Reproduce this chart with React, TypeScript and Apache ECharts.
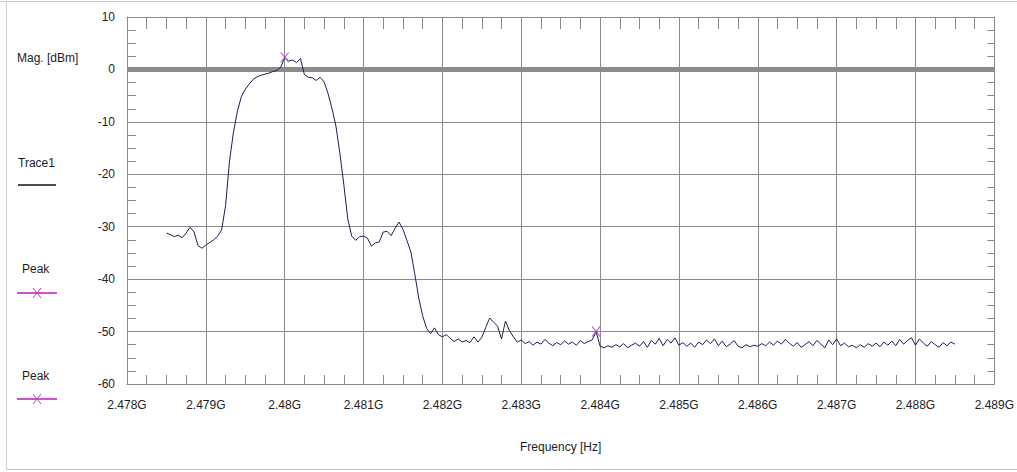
import React, { useEffect, useRef } from "react";
import * as echarts from "echarts";

// Sweep definition (Hz)
const sweepStartHz = 2478.5e6;
const sweepStepHz = 0.05e6;

// Trace1 magnitudes (dBm), one per sweep point, 2.4785 GHz .. 2.4885 GHz
const trace1Mag: number[] = [
  -31.2, -31.5, -31.9, -31.6, -32.1, -31.2, -30.1, -31.0, -33.6, -34.1,
  -33.5, -33.0, -32.5, -31.8, -30.6, -26.0, -17.5, -12.0, -8.0, -5.2,
  -3.8, -2.8, -1.9, -1.4, -1.1, -0.9, -0.7, -0.4, -0.2, 0.4,
  2.3, 1.6, 1.8, 1.3, 2.1, -1.0, -1.5, -1.6, -2.1, -1.5,
  -2.4, -4.6, -7.5, -10.8, -16.0, -22.0, -28.5, -31.8, -32.6, -31.9,
  -31.8, -32.2, -33.7, -33.1, -32.9, -31.0, -30.9, -31.7, -30.3, -29.1,
  -30.5, -32.6, -34.8, -39.0, -43.6, -47.0, -49.4, -50.4, -49.3, -50.6,
  -51.0, -50.6, -51.3, -51.9, -51.4, -52.0, -51.7, -52.1, -51.0, -52.0,
  -51.1, -49.2, -47.4, -48.2, -49.0, -51.4, -48.0, -49.8, -51.0, -52.0,
  -51.6, -52.3, -51.9, -52.6, -52.0, -52.4, -51.5, -52.2, -52.7, -52.1,
  -52.5, -51.8, -52.4, -52.0, -52.6, -51.7, -52.3, -51.9, -51.6, -50.0,
  -52.8, -53.1, -52.7, -53.0, -52.5, -52.9, -52.3, -53.1, -52.6, -52.2,
  -52.8, -51.9, -53.0, -51.7, -52.4, -51.3, -52.7, -51.5, -52.2, -51.2,
  -52.6, -52.1, -52.8, -52.2, -53.0, -52.0, -52.5, -51.6, -52.3, -51.4,
  -52.7, -51.8, -52.9, -52.4, -51.7, -52.8, -53.1, -52.5, -52.9, -52.6,
  -52.8, -52.3, -52.7, -52.0, -52.6, -51.8, -52.4, -51.5, -52.2, -52.8,
  -52.1, -53.0, -52.5, -51.9, -52.7, -51.7, -52.4, -53.1, -51.6, -52.5,
  -51.4, -52.7, -52.2, -52.9, -52.6, -53.1, -52.5, -53.0, -52.3, -52.8,
  -52.2, -52.9, -52.0, -52.6, -51.8, -52.7, -51.5, -52.4, -51.7, -51.2,
  -52.6, -51.4, -52.2, -52.8, -51.9, -52.5, -53.0, -52.1, -52.7, -52.0,
  -52.4,
];

// Peak markers
const peakFreqHz: number[] = [2480.0e6, 2483.95e6];
const peakMag: number[] = [2.3, -50.0];

// Axes
const freqMinHz = 2478e6;
const freqMaxHz = 2489e6;
const freqIntervalHz = 1e6;
const magMin = -60;
const magMax = 10;
const magInterval = 10;
const referenceLevel = 0;

const FONT = "'Liberation Sans', Arial, sans-serif";
const GRID_COLOR = "#8a8a8a";
const TEXT_COLOR = "#1e1e1e";
const TRACE_COLOR = "#1e1e56";
const PEAK_COLOR = "#b040c8";
const PEAK_LEGEND_COLOR = "#d050d0";

export default function App() {
  const ref = useRef<HTMLDivElement>(null);

  useEffect(() => {
    document.body.style.margin = "0";
    if (!ref.current) return;
    const chart = echarts.init(ref.current, null, { renderer: "svg" });

    const traceData = trace1Mag.map((v, i) => [sweepStartHz + i * sweepStepHz, v]);
    const peakData = peakFreqHz.map((f, i) => [f, peakMag[i]]);
    const refLineData = [
      [freqMinHz, referenceLevel],
      [freqMaxHz, referenceLevel],
    ];

    const baseX = {
      type: "value" as const,
      min: freqMinHz,
      max: freqMaxHz,
      interval: freqIntervalHz,
    };
    const baseY = {
      type: "value" as const,
      min: magMin,
      max: magMax,
      interval: magInterval,
    };

    const option: any = {
      animation: false,
      backgroundColor: "#ffffff",
      textStyle: { fontFamily: FONT },
      grid: { left: 127, right: 18, top: 17, bottom: 88, containLabel: false },
      xAxis: [
        {
          ...baseX,
          position: "bottom",
          name: "Frequency [Hz]",
          nameLocation: "middle",
          nameGap: 57,
          nameTextStyle: { color: TEXT_COLOR, fontSize: 12, fontFamily: FONT },
          axisLine: { show: true, onZero: false, lineStyle: { color: GRID_COLOR, width: 1 } },
          axisTick: { show: true, inside: true, length: 9, lineStyle: { color: GRID_COLOR } },
          minorTick: { show: true, splitNumber: 4, length: 9, lineStyle: { color: GRID_COLOR } },
          splitLine: { show: true, lineStyle: { color: GRID_COLOR, width: 1 } },
          axisLabel: {
            color: TEXT_COLOR,
            fontSize: 12,
            fontFamily: FONT,
            margin: 15,
            formatter: (v: number) => `${v / 1e9}G`,
          },
        },
        {
          ...baseX,
          position: "top",
          axisLine: { show: true, onZero: false, lineStyle: { color: GRID_COLOR, width: 1 } },
          axisTick: { show: true, inside: true, length: 12, lineStyle: { color: GRID_COLOR } },
          minorTick: { show: true, splitNumber: 4, length: 12, lineStyle: { color: GRID_COLOR } },
          splitLine: { show: false },
          axisLabel: { show: false },
        },
      ],
      yAxis: [
        {
          ...baseY,
          position: "left",
          axisLine: { show: true, onZero: false, lineStyle: { color: GRID_COLOR, width: 1 } },
          axisTick: { show: true, inside: true, length: 9, lineStyle: { color: GRID_COLOR } },
          minorTick: { show: true, splitNumber: 4, length: 9, lineStyle: { color: GRID_COLOR } },
          splitLine: { show: true, lineStyle: { color: GRID_COLOR, width: 1 } },
          axisLabel: { color: TEXT_COLOR, fontSize: 12, fontFamily: FONT, margin: 12 },
        },
        {
          ...baseY,
          position: "right",
          axisLine: { show: true, onZero: false, lineStyle: { color: GRID_COLOR, width: 1 } },
          axisTick: { show: true, inside: true, length: 7, lineStyle: { color: GRID_COLOR } },
          minorTick: { show: true, splitNumber: 4, length: 7, lineStyle: { color: GRID_COLOR } },
          splitLine: { show: false },
          axisLabel: { show: false },
        },
      ],
      series: [
        {
          name: "Reference",
          type: "line",
          data: refLineData,
          symbol: "none",
          silent: true,
          z: 1,
          lineStyle: { color: "#8c8c8c", width: 5 },
        },
        {
          name: "Trace1",
          type: "line",
          data: traceData,
          showSymbol: false,
          symbol: "none",
          z: 3,
          lineStyle: { color: TRACE_COLOR, width: 1 },
        },
        {
          name: "Peak",
          type: "scatter",
          data: peakData,
          z: 4,
          symbol: "path://M0,0L10,12M10,0L0,12",
          symbolSize: [8, 10],
          itemStyle: { color: "rgba(0,0,0,0)", borderColor: PEAK_COLOR, borderWidth: 1.2 },
        },
      ],
      graphic: [
        { type: "line", shape: { x1: 0, y1: 1.5, x2: 1017, y2: 1.5 }, style: { stroke: "#c8c8c8", lineWidth: 1 } },
        { type: "line", shape: { x1: 6.5, y1: 1.5, x2: 6.5, y2: 469.5 }, style: { stroke: "#d0d0d0", lineWidth: 1 } },
        { type: "line", shape: { x1: 6.5, y1: 469.5, x2: 1017, y2: 469.5 }, style: { stroke: "#c0c0c0", lineWidth: 1 } },
        {
          type: "text",
          x: 17,
          y: 58,
          style: { text: "Mag. [dBm]", fill: TEXT_COLOR, font: `12px ${FONT}`, verticalAlign: "middle" },
        },
        {
          type: "text",
          x: 18,
          y: 163,
          style: { text: "Trace1", fill: TEXT_COLOR, font: `12px ${FONT}`, verticalAlign: "middle" },
        },
        { type: "line", shape: { x1: 18, y1: 185, x2: 56, y2: 185 }, style: { stroke: "#111111", lineWidth: 1.5 } },
        {
          type: "text",
          x: 22,
          y: 269,
          style: { text: "Peak", fill: TEXT_COLOR, font: `12px ${FONT}`, verticalAlign: "middle" },
        },
        { type: "line", shape: { x1: 17, y1: 293, x2: 57, y2: 293 }, style: { stroke: PEAK_LEGEND_COLOR, lineWidth: 2 } },
        { type: "line", shape: { x1: 33, y1: 288, x2: 41, y2: 298 }, style: { stroke: PEAK_COLOR, lineWidth: 1 } },
        { type: "line", shape: { x1: 41, y1: 288, x2: 33, y2: 298 }, style: { stroke: PEAK_COLOR, lineWidth: 1 } },
        {
          type: "text",
          x: 22,
          y: 376,
          style: { text: "Peak", fill: TEXT_COLOR, font: `12px ${FONT}`, verticalAlign: "middle" },
        },
        { type: "line", shape: { x1: 17, y1: 399, x2: 57, y2: 399 }, style: { stroke: PEAK_LEGEND_COLOR, lineWidth: 2 } },
        { type: "line", shape: { x1: 33, y1: 394, x2: 41, y2: 404 }, style: { stroke: PEAK_COLOR, lineWidth: 1 } },
        { type: "line", shape: { x1: 41, y1: 394, x2: 33, y2: 404 }, style: { stroke: PEAK_COLOR, lineWidth: 1 } },
      ],
    };

    chart.setOption(option);
    return () => chart.dispose();
  }, []);

  return <div ref={ref} style={{ width: 1017, height: 472 }} />;
}
